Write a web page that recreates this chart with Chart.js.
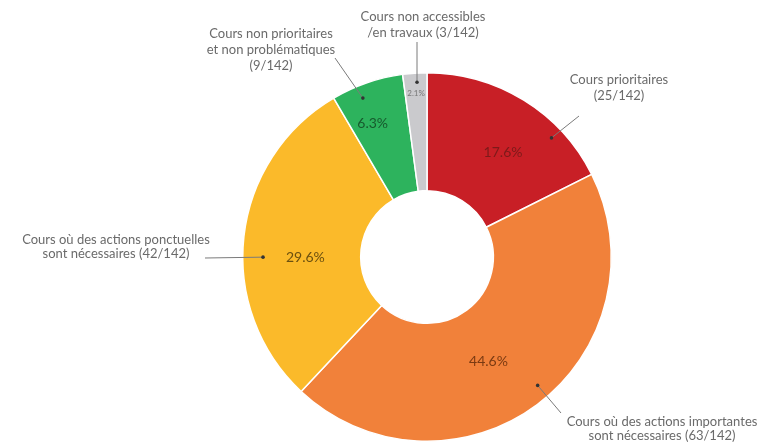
<!DOCTYPE html>
<html>
<head>
<meta charset="utf-8">
<script src="https://cdn.jsdelivr.net/npm/chart.js@4"></script>
<style>
  html, body { margin: 0; padding: 0; background: #fff; }
  #wrap { width: 767px; height: 445px; }
</style>
</head>
<body>
<div id="wrap"><canvas id="chart"></canvas></div>
<script>
// data
const categories = [
  'Cours prioritaires',
  'Cours où des actions importantes sont nécessaires',
  'Cours où des actions ponctuelles sont nécessaires',
  'Cours non prioritaires et non problématiques',
  'Cours non accessibles /en travaux'
];
const counts = [25, 63, 42, 9, 3];
const percentLabels = ['17.6%', '44.6%', '29.6%', '6.3%', '2.1%'];
const calloutLines = [
  ['Cours prioritaires', '(25/142)'],
  ['Cours où des actions importantes', 'sont nécessaires (63/142)'],
  ['Cours où des actions ponctuelles', 'sont nécessaires (42/142)'],
  ['Cours non prioritaires', 'et non problématiques', '(9/142)'],
  ['Cours non accessibles', '/en travaux (3/142)']
];
const colors = ['#c81f26', '#f1813a', '#fbba2a', '#2db35d', '#cacacd'];
const pctColors = ['#7d1a1a', '#7a3a12', '#6b5010', '#17592d', '#777777'];

// callout layout: dot (fraction along arc, fraction of radius), pct text, leader end, label text
const layout = [
  { dotF: 0.73, dotR: 0.935, pctF: 0.57, pctR: 0.70, end: [579, 116], tx: 619, ty: [80, 96] },
  { dotF: 0.475, dotR: 0.92, pctF: 0.54, pctR: 0.66, end: [561, 413], tx: 662, ty: [422, 436] },
  { dotF: 0.44, dotR: 0.89, pctF: 0.44, pctR: 0.66, end: [205, 258], tx: 116, ty: [240, 254] },
  { dotF: 0.37, dotR: 0.93, pctF: 0.36, pctR: 0.78, end: [335, 58], tx: 271, ty: [34, 50, 66] },
  { dotF: 0.57, dotR: 0.95, pctF: 0.5, pctR: 0.89, end: [417, 42], tx: 423, ty: [17, 33] }
];

const callouts = {
  id: 'callouts',
  afterDatasetsDraw(chart) {
    const ctx = chart.ctx;
    const arcs = chart.getDatasetMeta(0).data;
    ctx.save();
    arcs.forEach((arc, i) => {
      const p = arc.getProps(['x', 'y', 'startAngle', 'endAngle', 'outerRadius'], true);
      const L = layout[i];
      const span = p.endAngle - p.startAngle;
      const da = p.startAngle + span * L.dotF;
      const dx = p.x + Math.cos(da) * p.outerRadius * L.dotR;
      const dy = p.y + Math.sin(da) * p.outerRadius * L.dotR;
      // leader line
      ctx.strokeStyle = '#7a7a7a';
      ctx.lineWidth = 1;
      ctx.beginPath();
      ctx.moveTo(dx, dy);
      ctx.lineTo(L.end[0], L.end[1]);
      ctx.stroke();
      ctx.fillStyle = '#333';
      ctx.beginPath();
      ctx.arc(dx, dy, 1.8, 0, Math.PI * 2);
      ctx.fill();
      // percent
      const pa = p.startAngle + span * L.pctF;
      const px = p.x + Math.cos(pa) * p.outerRadius * L.pctR;
      const py = p.y + Math.sin(pa) * p.outerRadius * L.pctR;
      ctx.fillStyle = pctColors[i];
      ctx.font = (i === 4 ? '8px' : '14px') + ' Lato, sans-serif';
      ctx.textAlign = 'center';
      ctx.textBaseline = 'middle';
      ctx.fillText(percentLabels[i], px, py);
      // label text
      ctx.fillStyle = '#6a6a6a';
      ctx.font = '13px Lato, sans-serif';
      calloutLines[i].forEach((t, j) => ctx.fillText(t, L.tx, L.ty[j]));
    });
    ctx.restore();
  }
};

new Chart(document.getElementById('chart'), {
  type: 'doughnut',
  data: {
    labels: categories,
    datasets: [{
      data: counts,
      backgroundColor: colors,
      borderColor: '#ffffff',
      borderWidth: 1.5
    }]
  },
  options: {
    responsive: true,
    maintainAspectRatio: false,
    animation: false,
    events: [],
    cutout: '36%',
    layout: { padding: { top: 72, bottom: 3, left: 242, right: 155 } },
    plugins: {
      legend: { display: false },
      tooltip: { enabled: false }
    }
  },
  plugins: [callouts]
});
</script>
</body>
</html>
